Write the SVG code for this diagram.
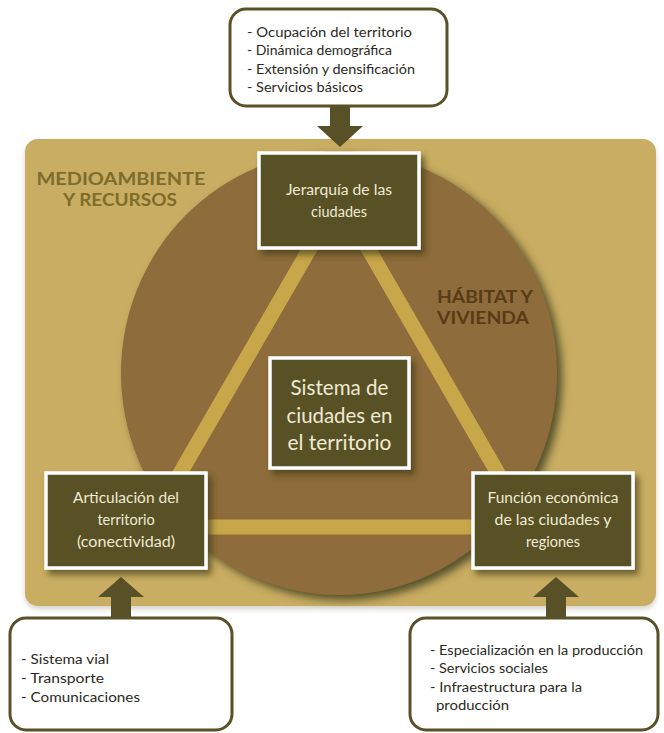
<svg xmlns="http://www.w3.org/2000/svg" width="664" height="733" viewBox="0 0 664 733">
<defs>
<filter id="panelShadow" x="-5%" y="-5%" width="110%" height="112%">
<feDropShadow dx="0" dy="3" stdDeviation="2.5" flood-color="#b8b4a8" flood-opacity="0.6"/>
</filter>
<filter id="circShadow" x="-10%" y="-10%" width="125%" height="125%">
<feDropShadow dx="5" dy="5" stdDeviation="4" flood-color="#4a4620" flood-opacity="0.9"/>
</filter>
<filter id="boxShadow" x="-10%" y="-10%" width="125%" height="130%">
<feDropShadow dx="4" dy="5" stdDeviation="3" flood-color="#3a3518" flood-opacity="0.65"/>
</filter>
<style>
.node rect.box{fill:#585128;stroke:#ffffff;stroke-width:3.5;filter:url(#boxShadow);}
.node text{font-family:Lato,"Open Sans","Liberation Sans",sans-serif;fill:#efead2;text-anchor:middle;font-size:14.5px;}
.node text.big{font-size:21px;}
.list rect{fill:#ffffff;stroke:#585128;stroke-width:3;}
.list text{font-family:Lato,"Open Sans","Liberation Sans",sans-serif;fill:#2b2a22;font-size:13.5px;}
.band{fill:none;stroke:#c8a64a;stroke-width:15;}
.arrow{fill:#585128;}
.region{font-family:Lato,"Open Sans","Liberation Sans",sans-serif;font-weight:bold;font-size:16.5px;}
</style>
</defs>

<!-- background panel -->
<rect id="panel" x="25" y="139" width="631" height="467" rx="13" fill="#c9ad62" filter="url(#panelShadow)"/>
<!-- circle -->
<ellipse id="circle" cx="339" cy="373" rx="218" ry="222" fill="#8e6c3a" filter="url(#circShadow)"/>

<!-- region labels -->
<g id="label-medioambiente">
<text class="region" fill="#7d6c2c" x="121" y="185" text-anchor="middle" textLength="169" lengthAdjust="spacingAndGlyphs">MEDIOAMBIENTE</text>
<text class="region" fill="#7d6c2c" x="120" y="206" text-anchor="middle" textLength="114" lengthAdjust="spacingAndGlyphs">Y RECURSOS</text>
</g>
<g id="label-habitat">
<text class="region" fill="#5a3a18" x="437" y="303" textLength="96" lengthAdjust="spacingAndGlyphs">HÁBITAT Y</text>
<text class="region" fill="#5a3a18" x="437" y="324" textLength="92" lengthAdjust="spacingAndGlyphs">VIVIENDA</text>
</g>

<!-- connectors -->
<g id="connectors">
<polygon class="band" points="339,198 149,527 529,527"/>
<g id="arrow-top">
<rect class="arrow" x="330" y="104" width="20" height="24"/>
<polygon class="arrow" points="317,126 363,126 340,147"/>
</g>
<g id="arrow-left">
<rect class="arrow" x="111" y="594" width="20" height="25"/>
<polygon class="arrow" points="98,597 144,597 121,577"/>
</g>
<g id="arrow-right">
<rect class="arrow" x="546" y="594" width="20" height="25"/>
<polygon class="arrow" points="533,597 579,597 556,577"/>
</g>
</g>

<!-- nodes -->
<g id="node-jerarquia" class="node">
<rect class="box" x="259" y="153" width="160" height="95"/>
<text x="339" y="195" textLength="106" lengthAdjust="spacingAndGlyphs">Jerarquía de las</text>
<text x="339" y="217">ciudades</text>
</g>
<g id="node-sistema" class="node">
<rect class="box" x="270" y="358" width="139" height="110"/>
<text class="big" x="339.5" y="395" textLength="98" lengthAdjust="spacingAndGlyphs">Sistema de</text>
<text class="big" x="339.5" y="423" textLength="106" lengthAdjust="spacingAndGlyphs">ciudades en</text>
<text class="big" x="339.5" y="450" textLength="104" lengthAdjust="spacingAndGlyphs">el territorio</text>
</g>
<g id="node-articulacion" class="node">
<rect class="box" x="46" y="473" width="160" height="95"/>
<text x="126" y="503" textLength="106" lengthAdjust="spacingAndGlyphs">Articulación del</text>
<text x="126" y="525">territorio</text>
<text x="126" y="547" textLength="98" lengthAdjust="spacingAndGlyphs">(conectividad)</text>
</g>
<g id="node-funcion" class="node">
<rect class="box" x="473" y="473" width="160" height="95"/>
<text x="553" y="503" textLength="131" lengthAdjust="spacingAndGlyphs">Función económica</text>
<text x="553" y="525" textLength="117" lengthAdjust="spacingAndGlyphs">de las ciudades y</text>
<text x="553" y="547">regiones</text>
</g>

<g id="list-top" class="list">
<rect x="230" y="9" width="217" height="97" rx="16"/>
<text x="247" y="37" textLength="165" lengthAdjust="spacingAndGlyphs">- Ocupación del territorio</text>
<text x="247" y="55" textLength="145" lengthAdjust="spacingAndGlyphs">- Dinámica demográfica</text>
<text x="247" y="74" textLength="168" lengthAdjust="spacingAndGlyphs">- Extensión y densificación</text>
<text x="247" y="92" textLength="116" lengthAdjust="spacingAndGlyphs">- Servicios básicos</text>
</g>
<g id="list-left" class="list">
<rect x="10" y="618" width="222" height="112" rx="16"/>
<text x="21" y="664" textLength="88" lengthAdjust="spacingAndGlyphs">- Sistema vial</text>
<text x="21" y="683" textLength="83" lengthAdjust="spacingAndGlyphs">- Transporte</text>
<text x="21" y="702" textLength="119" lengthAdjust="spacingAndGlyphs">- Comunicaciones</text>
</g>
<g id="list-right" class="list">
<rect x="410" y="618" width="248" height="112" rx="16"/>
<text x="430" y="655" textLength="213" lengthAdjust="spacingAndGlyphs">- Especialización en la producción</text>
<text x="430" y="673" textLength="118" lengthAdjust="spacingAndGlyphs">- Servicios sociales</text>
<text x="430" y="692" textLength="152" lengthAdjust="spacingAndGlyphs">- Infraestructura para la</text>
<text x="436" y="710" textLength="73" lengthAdjust="spacingAndGlyphs">producción</text>
</g>
</svg>
